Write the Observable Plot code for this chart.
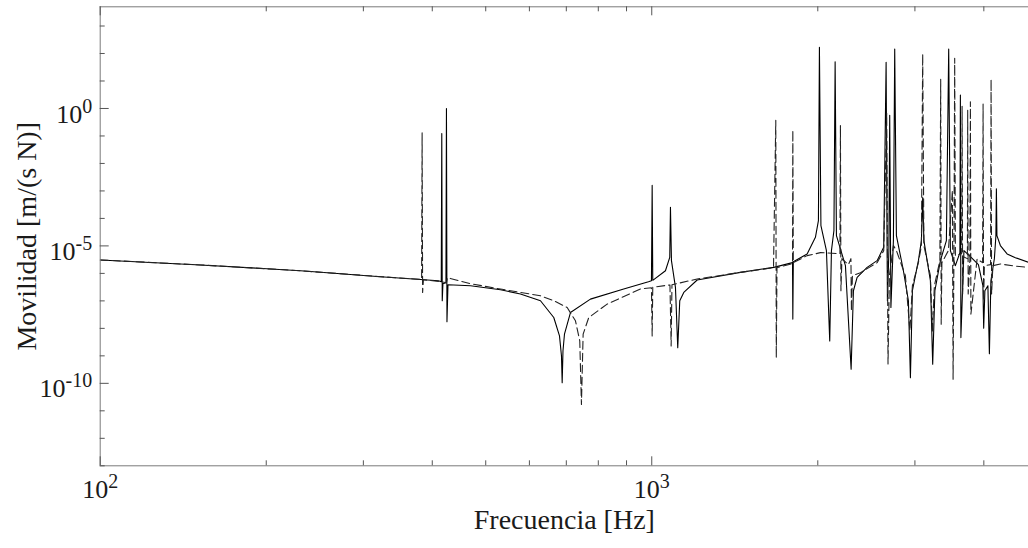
<!DOCTYPE html>
<html><head><meta charset="utf-8">
<script src="https://cdn.jsdelivr.net/npm/d3@7"></script>
<script src="https://cdn.jsdelivr.net/npm/@observablehq/plot@0.6"></script>
<style>html,body{margin:0;padding:0;background:#fff;} svg{display:block;}</style>
</head><body><div id="chart"></div>
<script>
// Solid series: frequency [Hz] and mobility [m/(s N)]
const solidFreq = [100, 152.0, 230.7, 322.3, 410.5, 415.3, 416.2, 417.0, 418.2, 423.5, 424.4, 425.3, 427.1, 469.3, 531.8, 578.0, 628.4, 664.3, 680.3, 686.0, 688.0, 690.3, 694.6, 712.2, 774.1, 889.5, 986.3, 998.7, 1001.7, 1004.2, 1058.8, 1078.0, 1081.2, 1085.7, 1104.0, 1114.6, 1124.0, 1143.0, 1208.7, 1448.2, 1664.4, 1799.7, 1802.0, 1805.7, 1912.9, 1980.3, 2005.3, 2013.6, 2026.3, 2073.4, 2102.2, 2117.2, 2139.4, 2150.1, 2161.8, 2244.6, 2298.6, 2320.8, 2356.9, 2457.3, 2562.0, 2633.6, 2660.1, 2674.5, 2691.3, 2700.3, 2713.9, 2742.3, 2757.3, 2776.9, 2859.2, 2919.5, 2944.0, 2968.7, 3043.9, 3082.3, 3099.0, 3114.6, 3200.2, 3231.1, 3260.9, 3336.6, 3421.3, 3454.3, 3478.9, 3552.2, 3619.6, 3627.1, 3634.7, 3681.3, 3781.8, 3910.4, 3984.3, 3997.6, 4017.8, 4068.4, 4093.9, 4119.6, 4180.2, 4207.0, 4215.3, 4224.7, 4286.1, 4407.8, 4563.3, 4819.9];
const solidMob = [3.08e-6, 2.03e-6, 1.25e-6, 7.58e-7, 5.41e-7, 4.98e-7, 0.122, 1.01e-7, 4.21e-7, 4.58e-7, 1.0, 1.73e-8, 3.87e-7, 3.56e-7, 2.54e-7, 1.77e-7, 1.01e-7, 2.48e-8, 5.32e-9, 9.92e-10, 1.05e-10, 1.51e-9, 6.14e-9, 3.77e-8, 1.16e-7, 2.70e-7, 4.98e-7, 5.41e-7, 1.59e-3, 5.6e-7, 1.25e-6, 3.84e-6, 2.56e-4, 2.91e-6, 3.08e-7, 1.99e-9, 1.01e-7, 2.03e-7, 5.74e-7, 1.09e-6, 1.66e-6, 2.46e-6, 2.17e-8, 2.67e-6, 5.10e-6, 2.06e-5, 8.38e-5, 168, 5.51e-5, 6.74e-6, 3.50e-9, 6.74e-6, 3.62e-5, 50.2, 2.38e-5, 1.91e-6, 3.24e-10, 2.34e-7, 7.14e-7, 1.66e-6, 2.91e-6, 8.89e-6, 47.7, 1.01e-7, 6.74e-6, 0.569, 5.74e-8, 1.56e-5, 146, 2.38e-5, 1.25e-6, 1.01e-7, 1.60e-10, 2.34e-7, 2.91e-6, 1.56e-5, 5.8e-4, 1.56e-5, 5.41e-7, 4.94e-10, 2.34e-7, 2.91e-6, 1.56e-5, 146, 6.74e-6, 1.91e-6, 5.69e-6, 3.06, 4.62e-9, 6.74e-6, 4.07e-6, 2.08e-6, 3.56e-7, 1.02e-8, 2.34e-7, 3.56e-7, 1.20e-9, 5.41e-7, 3.44e-6, 2.38e-5, 1.20e-3, 2.38e-5, 1.03e-5, 5.10e-6, 3.74e-6, 2.52e-6];

// Dashed series
const dashedFreq = [100, 152.0, 230.7, 322.3, 382.6, 383.4, 384.2, 385.5, 414.0, 424.4, 426.2, 469.3, 531.8, 628.4, 664.3, 702.5, 727.2, 740.4, 745.6, 750.9, 768.7, 830.0, 953.9, 998.7, 1001.7, 1004.2, 1078.9, 1084.3, 1088.0, 1208.7, 1448.2, 1662.3, 1678.3, 1681.8, 1686.7, 1799.7, 1802.0, 1805.7, 1912.9, 2022.1, 2193.6, 2198.2, 2202.8, 2212.0, 2272.9, 2296.7, 2301.5, 2311.1, 2389.6, 2562.0, 2633.6, 2666.7, 2681.3, 2697.0, 2742.3, 2776.9, 2883.2, 2937.9, 2968.7, 3043.9, 3082.3, 3099.0, 3114.6, 3200.2, 3227.1, 3254.1, 3329.6, 3340.8, 3347.8, 3357.6, 3449.9, 3508.0, 3518.3, 3530.0, 3541.8, 3552.2, 3646.1, 3653.0, 3661.4, 3673.6, 3734.7, 3739.4, 3747.2, 3774.0, 3781.8, 3789.6, 3889.2, 3979.4, 3987.6, 3996.0, 4009.4, 4114.3, 4123.0, 4131.6, 4154.0, 4286.1, 4563.3, 4819.9];
const dashedMob = [3.08e-6, 2.03e-6, 1.25e-6, 7.58e-7, 6.04e-7, 0.129, 2.03e-7, 5.89e-7, 4.98e-7, 4.58e-7, 6.97e-7, 4.21e-7, 2.70e-7, 1.53e-7, 1.01e-7, 5.74e-8, 1.88e-8, 3.50e-9, 1.71e-11, 6.14e-9, 2.48e-8, 7.64e-8, 2.70e-7, 3.01e-7, 5.32e-9, 3.14e-7, 3.80e-7, 2.30e-9, 3.87e-7, 6.25e-7, 1.09e-6, 1.61e-6, 0.374, 8.60e-10, 1.61e-6, 2.26e-6, 0.161, 2.46e-6, 4.43e-6, 5.69e-6, 5.24e-6, 0.246, 2.34e-7, 3.44e-6, 2.08e-6, 3.44e-6, 4.35e-8, 8.24e-7, 1.06e-6, 2.46e-6, 6.74e-6, 0.674, 5.06e-10, 8.24e-7, 1.03e-5, 6.74e-6, 8.24e-7, 8.11e-9, 3.56e-7, 2.46e-6, 1.03e-5, 95.9, 1.03e-5, 8.24e-7, 8.11e-9, 3.56e-7, 2.91e-6, 11.44, 1.42e-8, 2.46e-6, 6.74e-6, 1.04e-3, 1.40e-10, 2.46e-6, 66.8, 4.43e-6, 5.24e-6, 1.21, 1.77e-7, 4.07e-6, 3.44e-6, 0.867, 1.77e-7, 3.16e-6, 1.74, 3.30e-8, 3.35e-6, 2.46e-6, 1.44, 1.01e-7, 1.91e-6, 2.08e-6, 11.44, 1.77e-7, 1.91e-6, 2.20e-6, 1.83e-6, 1.66e-6];

// Axis ticks and labels
const xTicksMajor = [100, 1000];
const xTicksMinor = [200, 300, 400, 500, 600, 700, 800, 900, 2000, 3000, 4000];
const xTickLabels = ["10^2", "10^3"];
const yTicksMajor = [1e-10, 1e-5, 1e0];
const yTicksMinor = [1e-13, 1e-12, 1e-11, 1e-9, 1e-8, 1e-7, 1e-6, 1e-4, 1e-3, 1e-2, 1e-1, 1e1, 1e2, 1e3];
const yTickLabels = ["10^-10", "10^-5", "10^0"];
const xTitle = "Frecuencia [Hz]";
const yTitle = "Movilidad [m/(s N)]";

const solid = solidFreq.map((f, i) => ({f, m: solidMob[i]}));
const dashed = dashedFreq.map((f, i) => ({f, m: dashedMob[i]}));

const W = 1028, H = 548, mt = 6.3, mb = 82.7, ml = 99.7, mr = 0;
const pw = W - ml - mr, ph = H - mt - mb;
const frameColor = "#7a7a7a", tickColor = "#555";

const chart = Plot.plot({
  width: W, height: H,
  marginTop: mt, marginBottom: mb, marginLeft: ml, marginRight: mr,
  x: {type: "log", domain: [100, 4820], axis: null},
  y: {type: "log", domain: [1e-13, 5e3], axis: null},
  style: {fontFamily: "'Liberation Serif', 'Times New Roman', serif", background: "white", color: "#1a1a1a"},
  marks: [
    Plot.line(solid, {x: "f", y: "m", stroke: "#000", strokeWidth: 1.1, clip: true}),
    Plot.line(dashed, {x: "f", y: "m", stroke: "#222", strokeWidth: 1.1, strokeDasharray: "8,4", clip: true}),
    Plot.ruleX([100], {stroke: frameColor}),
    Plot.ruleY([1e-13, 5e3], {stroke: frameColor}),
    Plot.tickX(xTicksMajor, {x: d => d, insetTop: ph - 9, stroke: tickColor}),
    Plot.tickX(xTicksMinor, {x: d => d, insetTop: ph - 5, stroke: tickColor}),
    Plot.tickX(xTicksMajor, {x: d => d, insetBottom: ph - 9, stroke: tickColor}),
    Plot.tickX(xTicksMinor, {x: d => d, insetBottom: ph - 5, stroke: tickColor}),
    Plot.tickY(yTicksMajor, {y: d => d, insetRight: pw - 9, stroke: tickColor}),
    Plot.tickY(yTicksMinor, {y: d => d, insetRight: pw - 5, stroke: tickColor}),
    Plot.text(xTicksMajor, {x: d => d, text: (d, i) => xTickLabels[i], frameAnchor: "bottom", dy: 31.7, fontSize: 26, textAnchor: "middle", fill: "#1a1a1a"}),
    Plot.text(yTicksMajor, {y: d => d, text: (d, i) => yTickLabels[i], frameAnchor: "left", dx: -8, dy: 5.7, fontSize: 26, textAnchor: "end", fill: "#1a1a1a"}),
    Plot.text([xTitle], {text: d => d, frameAnchor: "bottom", dy: 63.4, fontSize: 28, textAnchor: "middle", fill: "#1a1a1a"}),
    Plot.text([yTitle], {text: d => d, frameAnchor: "left", dx: -72.7, rotate: -90, fontSize: 28, textAnchor: "middle", fill: "#1a1a1a"})
  ]
});

// superscripts for power-of-ten tick labels
chart.querySelectorAll("text").forEach(t => {
  const s = t.textContent;
  const k = s.indexOf("^");
  if (k < 0) return;
  t.textContent = s.slice(0, k);
  const ts = document.createElementNS("http://www.w3.org/2000/svg", "tspan");
  ts.setAttribute("dy", "-10");
  ts.setAttribute("font-size", "20");
  ts.textContent = s.slice(k + 1);
  t.appendChild(ts);
});

document.getElementById("chart").appendChild(chart);
</script>
</body></html>
